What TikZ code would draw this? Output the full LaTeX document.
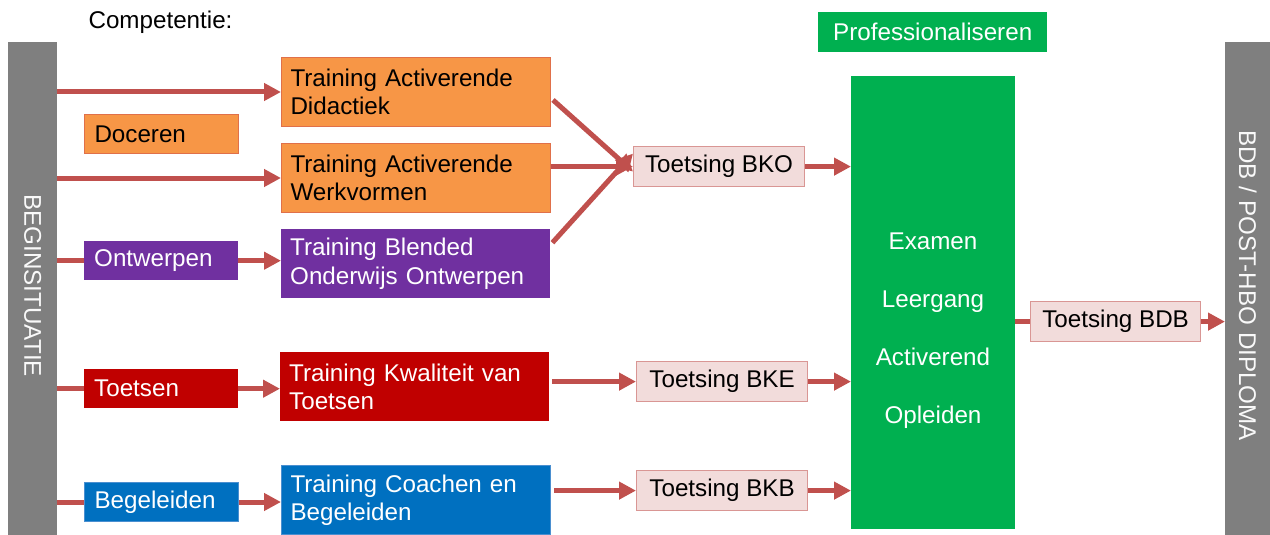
\documentclass[tikz,border=0pt]{standalone}
\usepackage{fontspec}
\setmainfont{Liberation Sans}
\usetikzlibrary{arrows.meta}
\definecolor{bargray}{HTML}{7F7F7F}
\definecolor{docorange}{HTML}{F79646}
\definecolor{docedge}{HTML}{E0704A}
\definecolor{ontpurple}{HTML}{7030A0}
\definecolor{toetsred}{HTML}{C00000}
\definecolor{begblue}{HTML}{0070C0}
\definecolor{begedge}{HTML}{4A8FD0}
\definecolor{testpink}{HTML}{F2DCDB}
\definecolor{testedge}{HTML}{D99694}
\definecolor{arrowred}{HTML}{C0504D}
\definecolor{profgreen}{HTML}{00B050}
\begin{document}
\begin{tikzpicture}[x=1pt,y=-1pt,
  font=\fontsize{24.2}{28.5}\selectfont,
  bar/.style={fill=bargray,anchor=north west,inner sep=0pt,minimum width=#1,minimum height=493},
  bartext/.style={rotate=-90,text=white!95!gray},
  compbox/.style={anchor=north west,inner xsep=10pt,inner ysep=0pt,text width=134pt,align=left,minimum height=39},
  trainbox/.style={anchor=north west,inner xsep=9pt,inner ysep=0pt,text width=251pt,align=left,minimum height=69},
  testbox/.style={anchor=north west,fill=testpink,draw=testedge,line width=1.2pt,inner sep=0pt,minimum width=171,minimum height=40},
  linkline/.style={draw=arrowred,line width=5pt},
  linkarrow/.style={linkline,-{Triangle[length=17pt,width=17pt]}}]
\useasboundingbox (0,0) rectangle (1270,535);

% grey side bars
\node[bar=49] (begin) at (8,42) {};
\node[bartext] at ([yshift=3]begin.center) {BEGINSITUATIE};
\node[bar=45] (diploma) at (1225,42) {};
\node[bartext] at ([yshift=3]diploma.center) {BDB / POST-HBO DIPLOMA};

\node[anchor=west] (comptitle) at (85,22) {Competentie:};

% competenties
\node[compbox,fill=docorange,draw=docedge,line width=1pt] (doceren) at (84,114) {Doceren};
\node[compbox,fill=ontpurple,text=white] (ontwerpen) at (84,241) {Ontwerpen};
\node[compbox,fill=toetsred,text=white] (toetsen) at (84,369) {Toetsen};
\node[compbox,fill=begblue,draw=begedge,line width=1pt,text=white] (begeleiden) at (84,482) {Begeleiden};

% trainingen
\node[trainbox,fill=docorange,draw=docedge,line width=1pt] (didactiek) at (281,57) {Training Activerende\\Didactiek};
\node[trainbox,fill=docorange,draw=docedge,line width=1pt] (werkvormen) at (281,143) {Training Activerende\\Werkvormen};
\node[trainbox,fill=ontpurple,text=white] (blended) at (281,229) {Training Blended\\Onderwijs Ontwerpen};
\node[trainbox,fill=toetsred,text=white] (kwaliteit) at (280,352) {Training Kwaliteit van\\Toetsen};
\node[trainbox,fill=begblue,draw=begedge,line width=1pt,text=white] (coachen) at (281,465) {Training Coachen en\\Begeleiden};

% toetsingen
\node[testbox] (bko) at (633,146) {Toetsing BKO};
\node[testbox] (bke) at (636,361) {Toetsing BKE};
\node[testbox] (bkb) at (636,470) {Toetsing BKB};
\node[testbox,minimum width=170] (bdb) at (1030,301) {Toetsing BDB};

% leergang
\node[anchor=north west,fill=profgreen,text=white,inner sep=0pt,minimum width=229,minimum height=40] (proftitle) at (818,12) {Professionaliseren};
\node[anchor=north west,fill=profgreen,inner sep=0pt,minimum width=164,minimum height=453] (leergang) at (851,76) {};
\node[text=white,align=center,font=\fontsize{24.2}{58}\selectfont] (leergangtxt) at (933,331) {Examen\\Leergang\\Activerend\\Opleiden};

% verbindingen
\draw[linkarrow] (begin.east |- didactiek.west) -- (didactiek.west);
\draw[linkarrow] (begin.east |- werkvormen.west) -- (werkvormen.west);
\draw[linkline] (begin.east |- ontwerpen.west) -- (ontwerpen.west);
\draw[linkarrow] (ontwerpen.east) -- (ontwerpen.east -| blended.west);
\draw[linkline] (begin.east |- toetsen.west) -- (toetsen.west);
\draw[linkarrow] (toetsen.east) -- (toetsen.east -| kwaliteit.west);
\draw[linkline] (begin.east |- begeleiden.west) -- (begeleiden.west);
\draw[linkarrow] (begeleiden.east) -- (begeleiden.east -| coachen.west);

\draw[linkarrow] ([xshift=2,yshift=-8]didactiek.east) -- ([yshift=-5]bko.west);
\draw[linkarrow] (werkvormen.east |- bko.west) -- (bko.west);
\draw[linkarrow] ([xshift=2,yshift=21]blended.east) -- ([yshift=13]bko.west);
\draw[linkarrow] ([xshift=3]kwaliteit.east |- bke.west) -- (bke.west);
\draw[linkarrow] ([xshift=3]coachen.east |- bkb.west) -- (bkb.west);

\draw[linkarrow] (bko.east) -- (bko.east -| leergang.west);
\draw[linkarrow] (bke.east) -- (bke.east -| leergang.west);
\draw[linkarrow] (bkb.east) -- (bkb.east -| leergang.west);
\draw[linkline] (leergang.east |- bdb.west) -- (bdb.west);
\draw[linkarrow] (bdb.east) -- (bdb.east -| diploma.west);
\end{tikzpicture}
\end{document}
